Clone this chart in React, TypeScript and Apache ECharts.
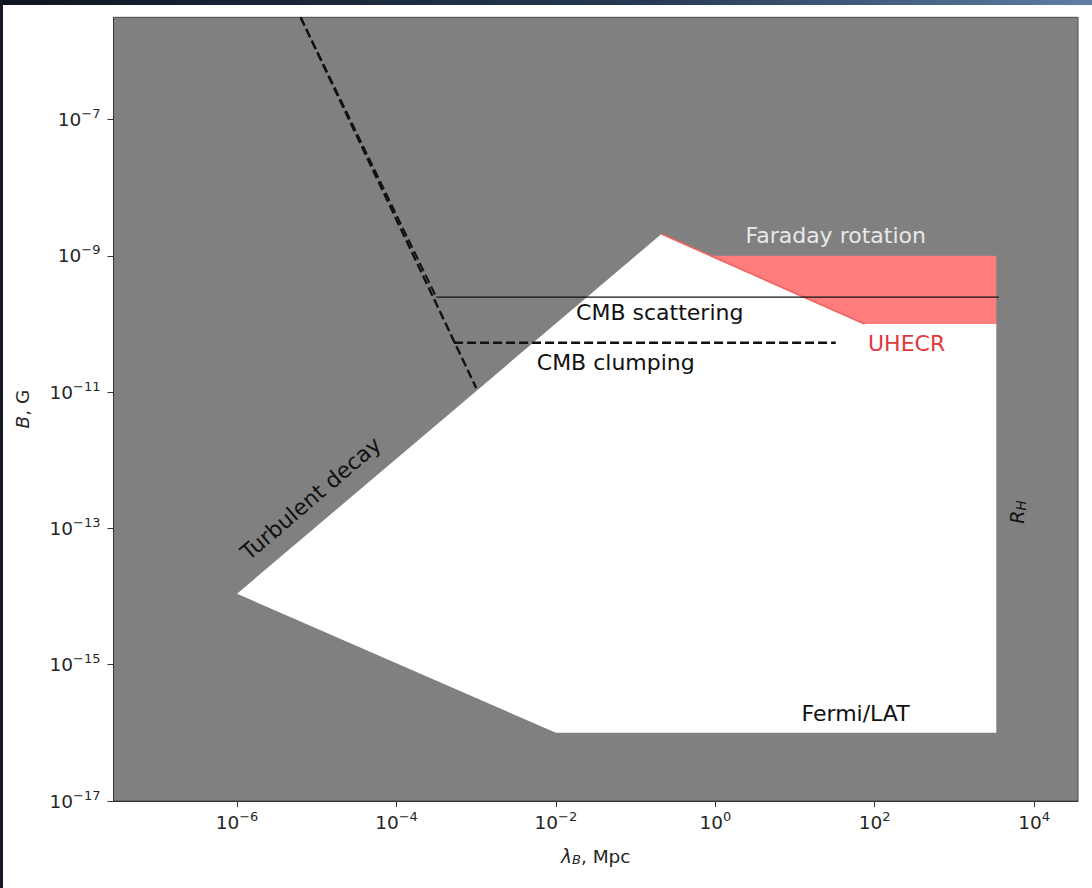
import React, { useEffect, useRef } from "react";
import * as echarts from "echarts";

const FONT = "DejaVu Sans";

// axis ranges (real values, log axes)
const X_RANGE = [Math.pow(10, -7.55), Math.pow(10, 4.55)];
const Y_RANGE = [1e-17, Math.pow(10, -5.5)];
const X_TICKS = [1e-6, 1e-4, 1e-2, 1, 1e2, 1e4];
const Y_TICKS = [1e-17, 1e-15, 1e-13, 1e-11, 1e-9, 1e-7];

// allowed (white) region
const ALLOWED_X = [1e-6, 0.211, 74.6, 3350, 3350, 1e-2];
const ALLOWED_Y = [1.1e-14, 2.09e-9, 1e-10, 1e-10, 1e-16, 1e-16];

// Faraday rotation / UHECR band (red)
const RED_X = [0.84, 74.6, 3350, 3350];
const RED_Y = [1e-9, 1e-10, 1e-10, 1e-9];
const RED_EDGE_X = [0.211, 74.6];
const RED_EDGE_Y = [2.09e-9, 1e-10];

// CMB scattering (solid)
const SCAT_X = [3.16e-4, 3600];
const SCAT_Y = [2.48e-10, 2.48e-10];
// CMB clumping (dashed)
const CLUMP_X = [5.28e-4, 32.4];
const CLUMP_Y = [5.3e-11, 5.3e-11];
// steep dashed lines
const STEEP_A_X = [6.27e-6, 1e-3];
const STEEP_A_Y = [3.16e-6, 1.15e-11];
const STEEP_B_X = [6.27e-6, 3.16e-4];
const STEEP_B_Y = [3.16e-6, 2.48e-10];

// annotations
const ANNOT_TEXT = ["Faraday rotation", "CMB scattering", "CMB clumping", "UHECR", "Fermi/LAT", "Turbulent decay", "R_H"];
const ANNOT_X = [32.4, 0.201, 0.0564, 251, 57.5, 8.43e-6, 6030];
const ANNOT_Y = [2.02e-9, 1.45e-10, 2.75e-11, 5.25e-11, 1.9e-16, 2.75e-13, 1.74e-13];

const ANNOT_COLOR = ["#e8e8e8", "#111", "#111", "#e0383c", "#111", "#111", "#111"];
const ANNOT_ROT = [0, 0, 0, 0, 0, 40.5, 90];

const L = (v: number) => Math.log10(v);
const pts = (xs: number[], ys: number[]) => xs.map((x, i) => [L(x), L(ys[i])]);

const expLabel = (v: number) => {
  const e = Math.round(v);
  const s = e < 0 ? "\u2212" + Math.abs(e) : String(e);
  return `{b|10}{p|${s}}`;
};

const LABEL_COLOR = "#262626";
const labelRich = {
  b: { fontSize: 18.5, fontFamily: FONT, color: LABEL_COLOR, lineHeight: 21 },
  p: { fontSize: 13, fontFamily: FONT, color: LABEL_COLOR, padding: [0, 0, 12, 0] },
};

function polygonSeries(xs: number[], ys: number[], fill: string, z: number) {
  const data = pts(xs, ys);
  return {
    type: "custom",
    coordinateSystem: "cartesian2d",
    data: [data[0]],
    silent: true,
    clip: true,
    z,
    renderItem: (_p: any, api: any) => ({
      type: "polygon",
      shape: { points: data.map((d) => api.coord(d)) },
      style: { fill, stroke: null },
    }),
  };
}

function lineSeries(xs: number[], ys: number[], color: string, width: number, type: any, z: number) {
  return {
    type: "line",
    data: pts(xs, ys),
    symbol: "none",
    silent: true,
    clip: true,
    z,
    lineStyle: { color, width, type },
  };
}

export default function App() {
  const ref = useRef<HTMLDivElement>(null);
  useEffect(() => {
    document.body.style.margin = "0";
    const chart = echarts.init(ref.current!, null, { renderer: "svg" });
    const annotData = ANNOT_TEXT.map((t, i) => [L(ANNOT_X[i]), L(ANNOT_Y[i]), i]);
    const option: any = {
      animation: false,
      backgroundColor: "#ffffff",
      grid: {
        left: 113.5,
        top: 17.3,
        width: 964.5,
        height: 783.7,
        show: true,
        backgroundColor: "#808080",
        borderColor: "#4a4a4a",
        borderWidth: 1,
      },
      xAxis: {
        type: "value",
        min: L(X_RANGE[0]),
        max: L(X_RANGE[1]),
        splitLine: { show: false },
        axisLine: { show: true, onZero: false, lineStyle: { color: "#333", width: 1 } },
        axisTick: { show: true, length: 6, customValues: X_TICKS.map(L), lineStyle: { color: "#333" } },
        axisLabel: {
          customValues: X_TICKS.map(L),
          formatter: expLabel,
          rich: labelRich,
          margin: 9,
        },
        name: "{l|λ}{s|B}{n|, Mpc}",
        nameLocation: "middle",
        nameGap: 45,
        nameTextStyle: {
          rich: {
            l: { fontSize: 18.5, fontFamily: FONT, fontStyle: "italic", color: LABEL_COLOR },
            s: { fontSize: 13, fontFamily: FONT, fontStyle: "italic", color: LABEL_COLOR, padding: [7, 0, 0, 0] },
            n: { fontSize: 18.5, fontFamily: FONT, color: LABEL_COLOR },
          },
        },
      },
      yAxis: {
        type: "value",
        min: L(Y_RANGE[0]),
        max: L(Y_RANGE[1]),
        splitLine: { show: false },
        axisLine: { show: true, onZero: false, lineStyle: { color: "#333", width: 1 } },
        axisTick: { show: true, length: 6, customValues: Y_TICKS.map(L), lineStyle: { color: "#333" } },
        axisLabel: {
          customValues: Y_TICKS.map(L),
          formatter: expLabel,
          rich: labelRich,
          margin: 13,
        },
        name: "{i|B}{n|, G}",
        nameLocation: "middle",
        nameRotate: 90,
        nameGap: 82,
        nameTextStyle: {
          rich: {
            i: { fontSize: 18.5, fontFamily: FONT, fontStyle: "italic", color: LABEL_COLOR },
            n: { fontSize: 18.5, fontFamily: FONT, color: LABEL_COLOR },
          },
        },
      },
      graphic: [
        {
          type: "rect",
          shape: { x: 0, y: 0, width: 1092, height: 5 },
          style: {
            fill: new echarts.graphic.LinearGradient(0, 0, 1, 0, [
              { offset: 0, color: "#0e1520" },
              { offset: 0.6, color: "#273a55" },
              { offset: 1, color: "#5d7ea5" },
            ]),
          },
          z: 100,
        },
        { type: "rect", shape: { x: 0, y: 0, width: 3, height: 888 }, style: { fill: "#131a25" }, z: 100 },
      ],
      series: [
        polygonSeries(ALLOWED_X, ALLOWED_Y, "#ffffff", 1),
        polygonSeries(RED_X, RED_Y, "#ff7d7d", 2),
        lineSeries(RED_EDGE_X, RED_EDGE_Y, "#f26262", 1.6, "solid", 3),
        lineSeries(SCAT_X, SCAT_Y, "#111", 1.3, "solid", 4),
        lineSeries(CLUMP_X, CLUMP_Y, "#111", 2.4, [9, 4], 4),
        lineSeries(STEEP_A_X, STEEP_A_Y, "#111", 2.4, [9, 4], 4),
        lineSeries(STEEP_B_X, STEEP_B_Y, "#111", 2.0, [9, 4], 4),
        {
          type: "custom",
          coordinateSystem: "cartesian2d",
          data: annotData,
          silent: true,
          clip: false,
          z: 6,
          renderItem: (_p: any, api: any) => {
            const i = api.value(2);
            const p = api.coord([api.value(0), api.value(1)]);
            const text = ANNOT_TEXT[i];
            const rot = (ANNOT_ROT[i] * Math.PI) / 180;
            if (text === "R_H") {
              return {
                type: "text",
                x: p[0],
                y: p[1],
                rotation: rot,
                style: {
                  text: "{r|R}{h|H}",
                  align: "center",
                  verticalAlign: "middle",
                  rich: {
                    r: { fontSize: 19, fontFamily: FONT, fontStyle: "italic", fill: ANNOT_COLOR[i] },
                    h: { fontSize: 13.5, fontFamily: FONT, fontStyle: "italic", fill: ANNOT_COLOR[i], padding: [8, 0, 0, 0] },
                  },
                },
              };
            }
            return {
              type: "text",
              x: p[0],
              y: p[1],
              rotation: rot,
              style: {
                text,
                fill: ANNOT_COLOR[i],
                fontSize: 22,
                fontFamily: FONT,
                align: "center",
                verticalAlign: "middle",
              },
            };
          },
        },
      ],
    };
    chart.setOption(option);
    return () => chart.dispose();
  }, []);
  return <div ref={ref} style={{ width: 1092, height: 888 }} />;
}
